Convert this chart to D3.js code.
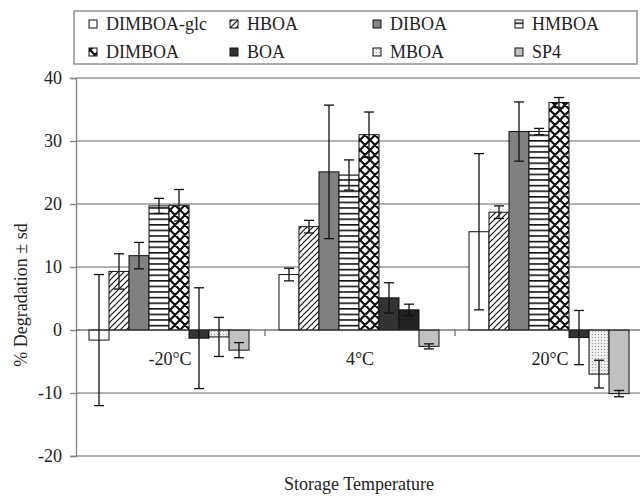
<!DOCTYPE html>
<html>
<head>
<meta charset="utf-8">
<script src="https://cdn.jsdelivr.net/npm/d3@7"></script>
<style>
  body { margin: 0; background: #fff; }
  svg text { font-family: "Liberation Serif", "DejaVu Serif", serif; fill: #222; }
</style>
</head>
<body>
<svg id="chart" width="640" height="498"></svg>
<script>
var categories = ["-20°C", "4°C", "20°C"];
var series = ["DIMBOA-glc", "HBOA", "DIBOA", "HMBOA", "DIMBOA", "BOA", "MBOA", "SP4"];
// mean degradation per series, one value per category
var means = [
  [-1.6, 8.8, 15.6],
  [9.3, 16.4, 18.7],
  [11.8, 25.1, 31.5],
  [19.7, 24.6, 31.5],
  [19.8, 31.0, 36.1],
  [-1.3, 5.1, -1.2],
  [-1.1, 3.2, -7.0],
  [-3.2, -2.6, -10.1]
];
var sds = [
  [10.4, 1.0, 12.4],
  [2.8, 1.0, 1.0],
  [2.1, 10.6, 4.7],
  [1.2, 2.4, 0.5],
  [2.5, 3.6, 0.8],
  [8.0, 2.4, 4.3],
  [3.1, 0.9, 2.2],
  [1.2, 0.4, 0.5]
];
var yTicks = [-20, -10, 0, 10, 20, 30, 40];

var FONT = "'Liberation Serif', 'DejaVu Serif', serif";
var svg = d3.select("#chart");
var defs = svg.append("defs");

// hatch patterns
var p = defs.append("pattern").attr("id", "diag").attr("patternUnits", "userSpaceOnUse")
    .attr("width", 6).attr("height", 6);
p.append("rect").attr("width", 6).attr("height", 6).attr("fill", "#fff");
p.append("path").attr("d", "M-1,7 L7,-1 M-1,1 L1,-1 M5,7 L7,5").attr("stroke", "#111").attr("stroke-width", 1.2);

p = defs.append("pattern").attr("id", "horiz").attr("patternUnits", "userSpaceOnUse")
    .attr("width", 6).attr("height", 5.6);
p.append("rect").attr("width", 6).attr("height", 5.6).attr("fill", "#fff");
p.append("rect").attr("y", 0).attr("width", 6).attr("height", 1.6).attr("fill", "#111");

p = defs.append("pattern").attr("id", "cross").attr("patternUnits", "userSpaceOnUse")
    .attr("width", 10).attr("height", 10);
p.append("rect").attr("width", 10).attr("height", 10).attr("fill", "#fff");
p.append("path").attr("d", "M0,0 L10,10 M10,0 L0,10 M-1,9 L1,11 M9,-1 L11,1 M-1,1 L1,-1 M9,11 L11,9")
    .attr("stroke", "#111").attr("stroke-width", 2.2);

p = defs.append("pattern").attr("id", "dots").attr("patternUnits", "userSpaceOnUse")
    .attr("width", 3).attr("height", 3);
p.append("rect").attr("width", 3).attr("height", 3).attr("fill", "#eee");
p.append("rect").attr("x", 1).attr("y", 1).attr("width", 1).attr("height", 1).attr("fill", "#999");

var fills = ["#fff", "url(#diag)", "#808080", "url(#horiz)", "url(#cross)", "#333", "url(#dots)", "#c0c0c0"];

var x0 = d3.scaleBand().domain(categories).range([75, 645]);
var x1 = d3.scaleBand().domain(series).range([14, 174]);
var y = d3.scaleLinear().domain([-20, 40]).range([456, 78]);

// gridlines
svg.append("g").selectAll("line").data(yTicks.filter(function(d) { return d !== 0; }))
  .enter().append("line")
    .attr("x1", 76).attr("x2", 640)
    .attr("y1", function(d) { return y(d); }).attr("y2", function(d) { return y(d); })
    .attr("stroke", "#999").attr("stroke-width", 1.4);

// y axis
var yAxis = svg.append("g").attr("transform", "translate(76,0)")
    .call(d3.axisLeft(y).tickValues(yTicks).tickSize(6).tickPadding(8)
      .tickFormat(function(d) { return String(d); }));
yAxis.attr("font-family", FONT);
yAxis.select(".domain").attr("stroke", "#888").attr("stroke-width", 1.4);
yAxis.selectAll(".tick line").attr("stroke", "#888").attr("stroke-width", 1.4);
yAxis.selectAll(".tick text").style("font-size", "18px").attr("fill", "#222");

// bars
var rows = [];
series.forEach(function(s, i) {
  categories.forEach(function(c, j) {
    rows.push({ s: s, i: i, c: c, j: j, v: means[i][j], sd: sds[i][j] });
  });
});

var bars = svg.append("g");
bars.selectAll("rect").data(rows).enter().append("rect")
    .attr("x", function(d) { return x0(d.c) + x1(d.s); })
    .attr("width", x1.bandwidth())
    .attr("y", function(d) { return y(Math.max(0, d.v)); })
    .attr("height", function(d) { return Math.abs(y(d.v) - y(0)); })
    .attr("fill", function(d) { return (d.s === "MBOA" && d.c === "4°C") ? "#222" : fills[d.i]; })
    .attr("stroke", "#111").attr("stroke-width", 1);

// zero line and category ticks
svg.append("line").attr("x1", 76).attr("x2", 640).attr("y1", y(0)).attr("y2", y(0))
    .attr("stroke", "#333").attr("stroke-width", 1);
svg.append("g").selectAll("line").data(categories.slice(1)).enter().append("line")
    .attr("x1", function(d) { return x0(d); }).attr("x2", function(d) { return x0(d); })
    .attr("y1", y(0)).attr("y2", y(0) + 6)
    .attr("stroke", "#666").attr("stroke-width", 1.2);

// error bars
var err = svg.append("g").attr("stroke", "#111").attr("stroke-width", 1.3);
rows.forEach(function(d) {
  var cx = x0(d.c) + x1(d.s) + x1.bandwidth() / 2;
  err.append("line").attr("x1", cx).attr("x2", cx).attr("y1", y(d.v - d.sd)).attr("y2", y(d.v + d.sd));
  err.append("line").attr("x1", cx - 5).attr("x2", cx + 5).attr("y1", y(d.v - d.sd)).attr("y2", y(d.v - d.sd));
  err.append("line").attr("x1", cx - 5).attr("x2", cx + 5).attr("y1", y(d.v + d.sd)).attr("y2", y(d.v + d.sd));
});

// category labels just below zero line
svg.append("g").selectAll("text").data(categories).enter().append("text")
    .attr("x", function(d) { return x0(d) + x0.bandwidth() / 2; })
    .attr("y", y(0) + 35)
    .attr("text-anchor", "middle")
    .style("font-size", "18px")
    .text(function(d) { return d; });

// axis titles
svg.append("text").attr("x", 359).attr("y", 490).attr("text-anchor", "middle")
    .style("font-size", "18px").text("Storage Temperature");
svg.append("text").attr("transform", "translate(27,295) rotate(-90)").attr("text-anchor", "middle")
    .style("font-size", "18px").text("% Degradation ± sd");

// legend
var legend = svg.append("g");
legend.append("rect").attr("x", 74).attr("y", 11).attr("width", 563).attr("height", 53)
    .attr("fill", "#fff").attr("stroke", "#888").attr("stroke-width", 1.4);
var lx = [89, 230, 373, 515], ly = [20, 48];
series.forEach(function(s, i) {
  var gx = lx[i % 4], gy = ly[Math.floor(i / 4)];
  legend.append("rect").attr("x", gx).attr("y", gy).attr("width", 8).attr("height", 8)
      .attr("fill", fills[i]).attr("stroke", "#111").attr("stroke-width", 1);
  legend.append("text").attr("x", gx + 17).attr("y", gy + 10)
      .style("font-size", "18px").text(s);
});
</script>
</body>
</html>
